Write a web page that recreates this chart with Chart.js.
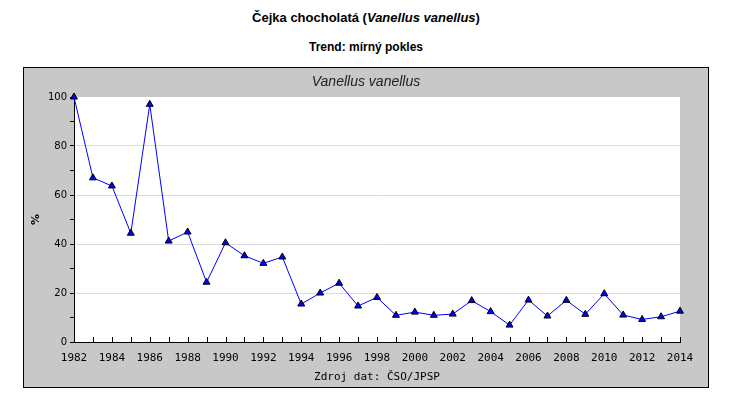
<!DOCTYPE html>
<html>
<head>
<meta charset="utf-8">
<script src="https://cdn.jsdelivr.net/npm/chart.js@4.4.1/dist/chart.umd.min.js"></script>
<style>
  body { margin: 0; background: #fff; width: 732px; height: 409px; position: relative; overflow: hidden; }
  .title { position: absolute; left: 0; width: 732px; text-align: center; font-family: "Liberation Sans", Arial, sans-serif; font-weight: bold; color: #000; }
  #t1 { top: 10px; font-size: 13px; }
  #t2 { top: 40px; font-size: 12px; }
  #box { position: absolute; left: 23px; top: 67px; width: 684px; height: 319px; background: #c8c8c8; border: 1px solid #000; }
  #box canvas { display: block; }
  #ct { position: absolute; left: 0; top: 5px; width: 684px; text-align: center; font-family: "Liberation Sans", Arial, sans-serif; font-style: italic; font-size: 14px; color: #222; }
</style>
</head>
<body>
<div class="title" id="t1">Čejka chocholatá (<i>Vanellus vanellus</i>)</div>
<div class="title" id="t2">Trend: mírný pokles</div>
<div id="box"><canvas id="chart" width="684" height="319"></canvas><div id="ct">Vanellus vanellus</div></div>
<script>
// roky a hodnoty indexu (%)
const years = [
  1982, 1983, 1984, 1985, 1986, 1987, 1988, 1989, 1990, 1991, 1992,
  1993, 1994, 1995, 1996, 1997, 1998, 1999, 2000, 2001, 2002, 2003,
  2004, 2005, 2006, 2007, 2008, 2009, 2010, 2011, 2012, 2013, 2014
];
const values = [
  100, 67, 63.7, 44.4, 97, 41.2, 44.9, 24.4, 40.5, 35.2, 32.1,
  34.7, 15.5, 20, 24, 14.7, 18.2, 10.9, 12.2, 10.9, 11.4, 16.9,
  12.4, 6.9, 17.1, 10.6, 17, 11.3, 19.7, 11, 9.2, 10.3, 12.6
];
const yTicks = [0, 20, 40, 60, 80, 100];

// bílé pozadí grafu + vnitřní značky na ose x
const plotBg = {
  id: 'plotBg',
  beforeDraw(chart) {
    const { ctx, chartArea: a } = chart;
    ctx.save();
    ctx.fillStyle = '#fff';
    ctx.fillRect(a.left, a.top, a.right - a.left, a.bottom - a.top);
    ctx.restore();
  },
  beforeDatasetsDraw(chart) {
    const { ctx, chartArea: a, scales } = chart;
    const x = scales.x;
    ctx.save();
    ctx.strokeStyle = '#000';
    ctx.lineWidth = 1;
    ctx.beginPath();
    x.ticks.forEach((t, i) => {
      const px = Math.round(x.getPixelForTick(i)) + 0.5;
      ctx.moveTo(px, a.bottom);
      ctx.lineTo(px, a.bottom - 5);
    });
    ctx.stroke();
    ctx.restore();
  }
};

new Chart(document.getElementById('chart'), {
  type: 'line',
  data: {
    labels: years,
    datasets: [{
      data: values,
      borderColor: '#0000ff',
      borderWidth: 1,
      backgroundColor: '#0000ff',
      pointStyle: 'triangle',
      pointRadius: 4,
      pointBorderColor: '#000',
      pointBorderWidth: 1,
      tension: 0,
      clip: false
    }]
  },
  options: {
    responsive: false,
    animation: false,
    layout: { padding: { left: 0, right: 28, top: 29, bottom: 0 } },
    plugins: {
      legend: { display: false },
      tooltip: { enabled: false }
    },
    scales: {
      x: {
        type: 'category',
        offset: false,
        afterFit: s => { s.height = 45; },
        grid: { drawOnChartArea: false, drawTicks: false },
        border: { color: '#000', width: 1 },
        ticks: {
          autoSkip: false,
          maxRotation: 0,
          padding: 10,
          color: '#000',
          font: { family: 'DejaVu Sans Mono', size: 11 },
          callback: function (v, i) {
            const yr = years[i];
            return yr % 2 === 0 ? String(yr) : '';
          }
        },
        title: {
          display: true,
          text: 'Zdroj dat: ČSO/JPSP',
          color: '#000',
          font: { family: 'DejaVu Sans Mono', size: 11 },
          padding: { top: 4, bottom: 3 }
        }
      },
      y: {
        min: 0,
        max: 100,
        afterFit: s => { s.width = 50; },
        grid: {
          color: c => (yTicks.includes(c.tick.value) && c.tick.value > 0 && c.tick.value < 100) ? '#dcdcdc' : 'rgba(0,0,0,0)',
          tickColor: '#000',
          tickLength: 4
        },
        border: { color: '#000', width: 1 },
        ticks: {
          stepSize: 10,
          padding: 3,
          color: '#000',
          font: { family: 'DejaVu Sans', size: 10 },
          callback: v => yTicks.includes(v) ? String(v) : ''
        },
        title: {
          display: true,
          text: '%',
          color: '#000',
          font: { family: 'DejaVu Sans', size: 11, weight: 'bold' },
          padding: { top: 6, bottom: 0 }
        }
      }
    }
  },
  plugins: [plotBg]
});
</script>
</body>
</html>
